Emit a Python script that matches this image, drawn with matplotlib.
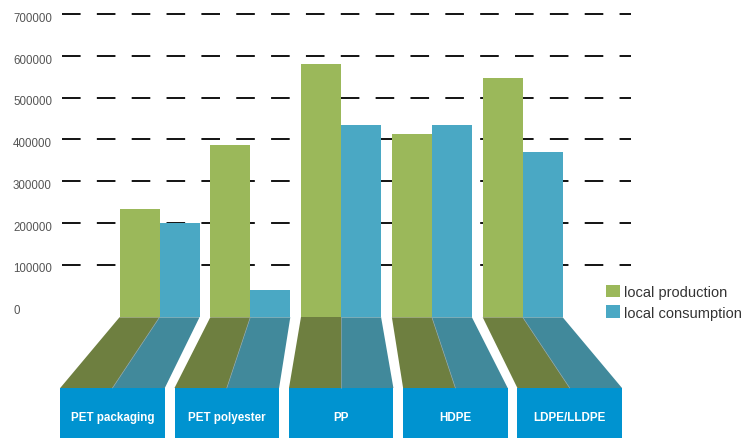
import matplotlib
matplotlib.use("Agg")
import matplotlib.pyplot as plt
from matplotlib.patches import Polygon, Rectangle
import numpy as np

plt.rcParams['font.family'] = ['Liberation Sans', 'DejaVu Sans']

categories = ["PET packaging", "PET polyester", "PP", "HDPE", "LDPE/LLDPE"]
production = [233000, 386000, 580000, 413000, 546000]
consumption = [199000, 39000, 434000, 433000, 369000]
series_names = ["local production", "local consumption"]
ticks = [0, 100000, 200000, 300000, 400000, 500000, 600000, 700000]

c_prod = "#9bb85a"
c_cons = "#4aa8c4"
c_prod_floor = "#6e7f40"
c_cons_floor = "#41899b"
c_box = "#0093d0"

W, H = 755, 439
fig = plt.figure(figsize=(W / 100, H / 100), dpi=100)
ax = fig.add_axes([0, 0, 1, 1])
ax.set_axis_off()

# pixel geometry -> data scales
px_per_cat = 90.8
cat0_px = 159.5
px_per_val = 41.75 / 100000.0
zero_py = 307.25  # from top
ax.set_xlim(-cat0_px / px_per_cat, (W - cat0_px) / px_per_cat)
ax.set_ylim(-(H - zero_py) / px_per_val, zero_py / px_per_val)

def px2x(px):
    return (px - cat0_px) / px_per_cat

def py2v(py):
    return (zero_py - py) / px_per_val

x = np.arange(len(categories))
bw = 40 / px_per_cat
floor_top = py2v(318.3)
floor_bot = py2v(389)
img_bot = py2v(H)

# dashed gridlines
for t in ticks[1:]:
    ax.hlines(t, px2x(62), px2x(631), colors="black", linewidth=1.3,
              linestyles=(0, (10.3, 9.0)), zorder=1)

# tick labels
for t in ticks:
    ax.text(px2x(13), t - 4 / px_per_val, f"{t}", ha="left", va="center",
            fontsize=8.3, color="#555555", zorder=2)

# bars
prod = np.array(production)
cons = np.array(consumption)
b1 = ax.bar(x - bw / 2, prod - floor_top, width=bw, bottom=floor_top,
            color=c_prod, zorder=3, linewidth=0)
b2 = ax.bar(x + bw / 2, cons - floor_top, width=bw, bottom=floor_top,
            color=c_cons, zorder=3, linewidth=0)

# perspective floor and label boxes
k = 114.3 / px_per_cat
half_bot = 52.3 / px_per_cat
mid = (len(categories) - 1) / 2
for i, name in enumerate(categories):
    bc = mid + (i - mid) * k
    ax.add_patch(Polygon([(i - bw, floor_top), (i, floor_top),
                          (bc, floor_bot), (bc - half_bot, floor_bot)],
                         closed=True, facecolor=c_prod_floor, edgecolor="none", zorder=3))
    ax.add_patch(Polygon([(i, floor_top), (i + bw, floor_top),
                          (bc + half_bot, floor_bot), (bc, floor_bot)],
                         closed=True, facecolor=c_cons_floor, edgecolor="none", zorder=3))
    ax.plot([i, bc], [floor_top, floor_bot], color="#8aa0a0", linewidth=0.5, zorder=4)
    ax.add_patch(Rectangle((bc - half_bot, img_bot), 2 * half_bot, floor_bot - img_bot,
                           facecolor=c_box, edgecolor="none", zorder=3))
    ax.text(bc, py2v(418), name, ha="center", va="center", color="white",
            fontsize=8.4, fontweight="bold", zorder=5)

leg = ax.legend([b1, b2], series_names, loc="upper left",
                bbox_to_anchor=(606 / W, 1 - 285.5 / H), frameon=False,
                handlelength=0.95, handleheight=0.95, fontsize=10.5,
                borderpad=0, borderaxespad=0, handletextpad=0.25, labelspacing=0.45)
for txt in leg.get_texts():
    txt.set_color("#333333")

fig.savefig("out.png", dpi=100)
